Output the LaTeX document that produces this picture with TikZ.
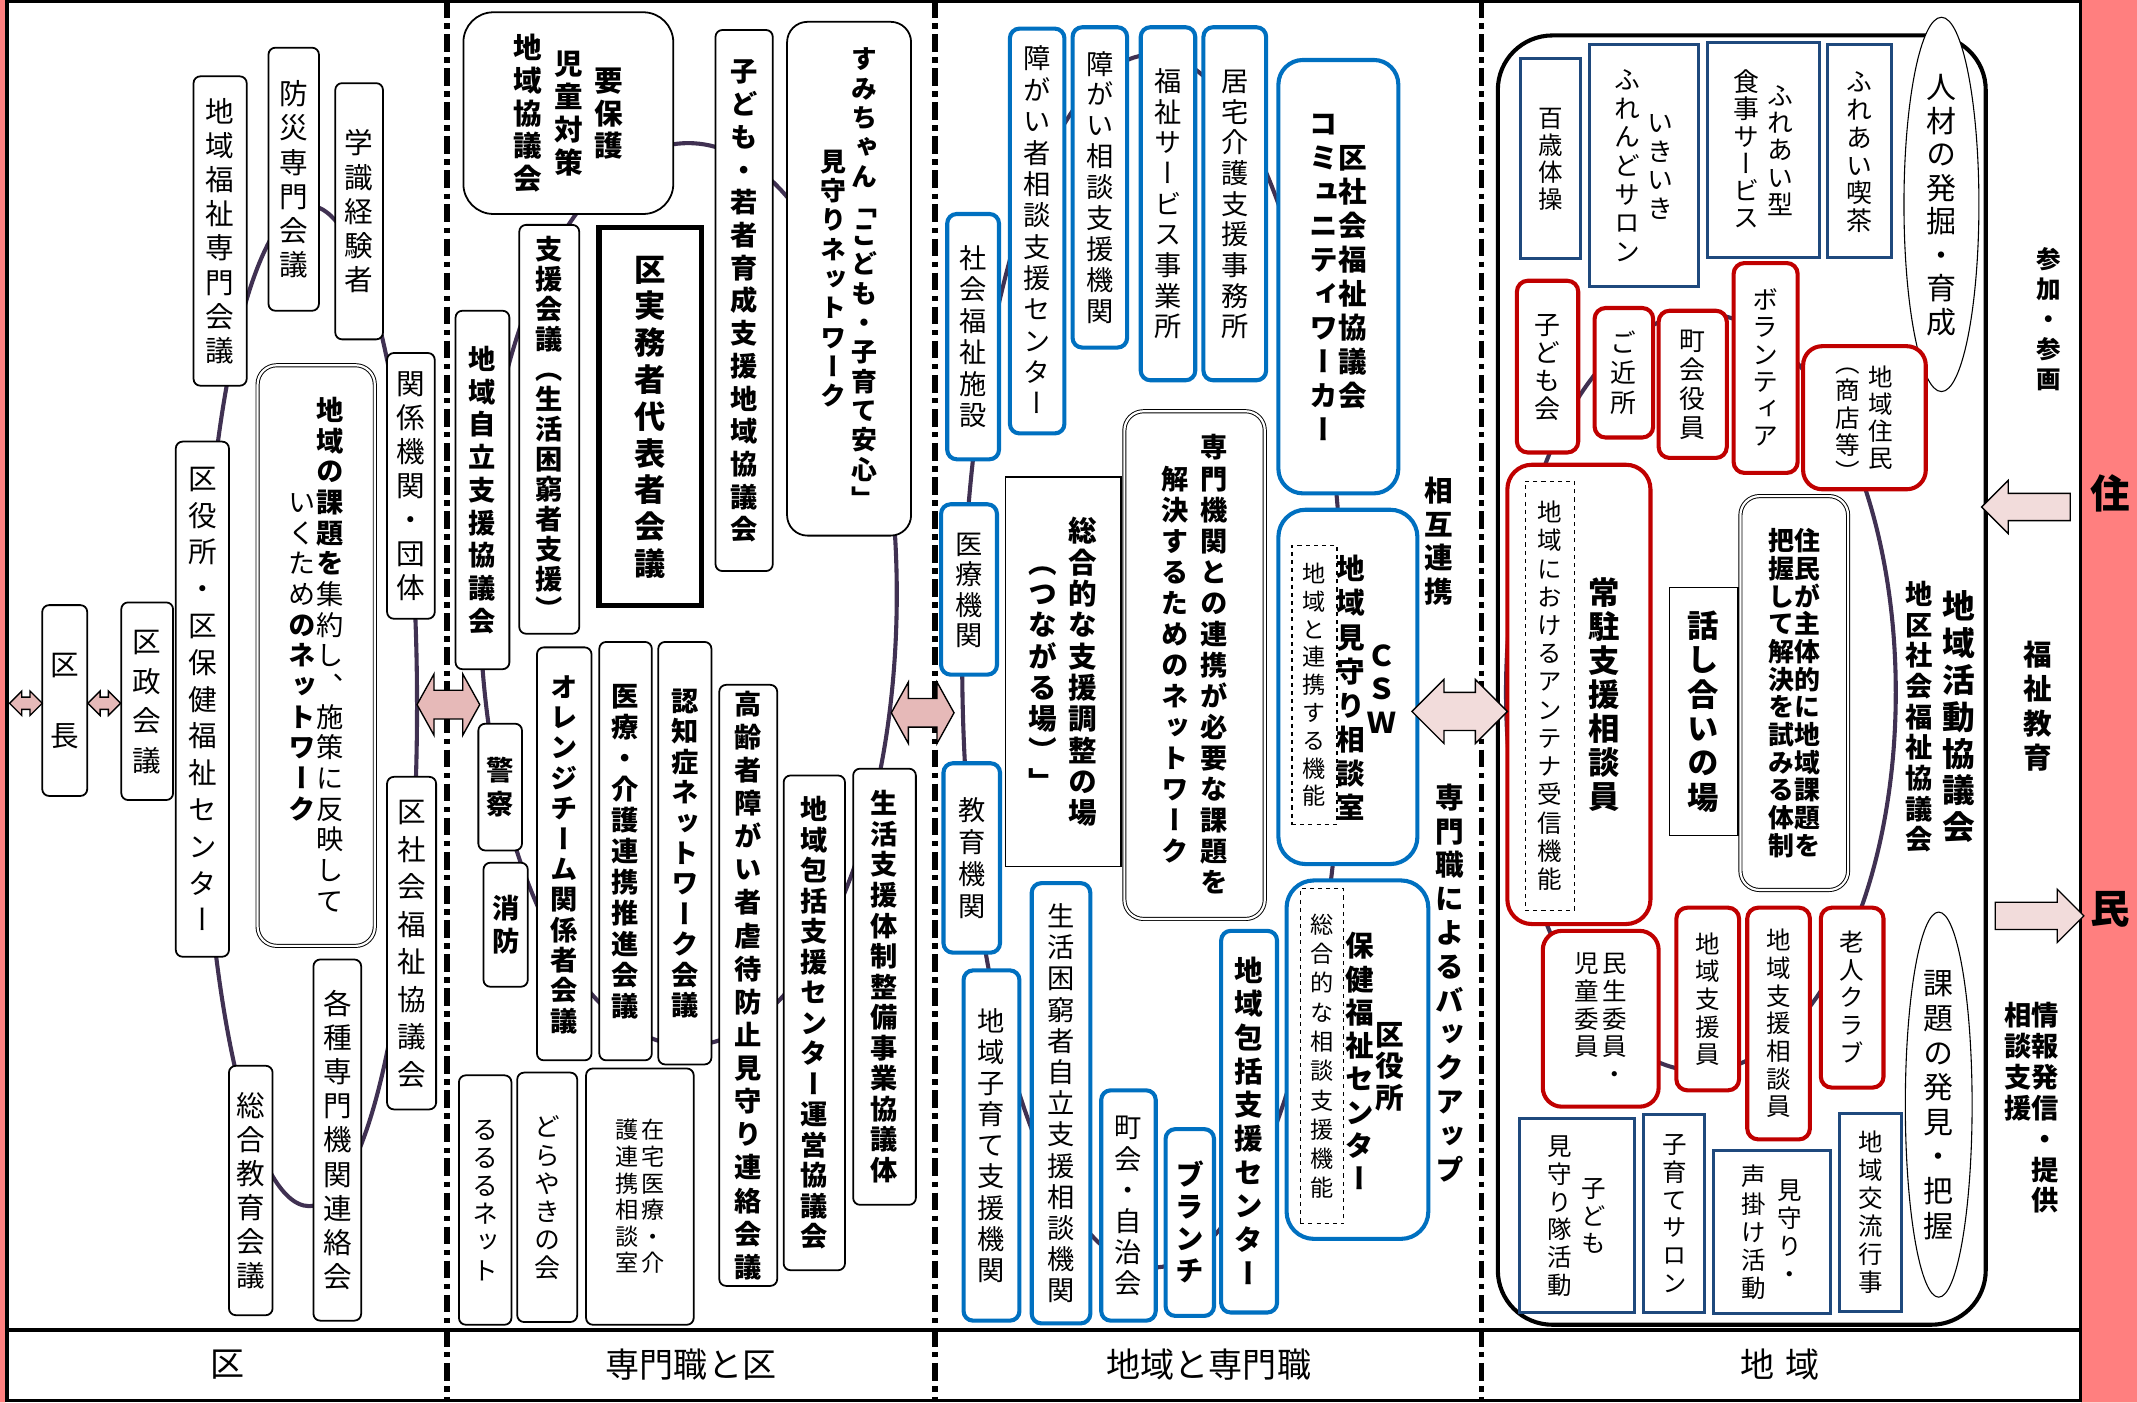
\documentclass[tikz,border=0pt]{standalone}
\usepackage{fontspec}
\setmainfont{Noto Sans CJK JP}
\newfontfamily\vtfont{Noto Sans CJK JP}[RawFeature=+vert]
\usepackage{xcolor}
\definecolor{ringc}{RGB}{64,49,82}
\definecolor{myblue}{RGB}{0,112,192}
\definecolor{mynavy}{RGB}{31,73,125}
\definecolor{myred}{RGB}{192,0,0}
\definecolor{mypink}{RGB}{230,185,184}
\definecolor{mylight}{RGB}{242,220,219}
\definecolor{mybar}{RGB}{255,127,127}
\usetikzlibrary{shapes.geometric}
\usetikzlibrary{shapes.arrows}

\newcommand\vtB{B}
\newcommand\vtM{M}
\newcommand\vtS{S}
\newcommand\vtchar[1]{\hbox to 1em{\hss\vrule height .88em depth .12em width 0pt #1\hss}}
\def\vtloop#1{\ifx#1\relax\else
  \ifx#1\vtB\bfseries\else
  \ifx#1\vtM\mdseries\else
  \ifx#1\vtS\vtchar{}\else
  \vtchar{#1}\fi\fi\fi
  \expandafter\vtloop\fi}
\newcommand\vt[1]{$\vcenter{\vtfont\lineskiplimit=-\maxdimen\vtloop#1\relax}$}

\tikzset{
  blackbox/.style={draw, fill=white, rounded corners=5pt, line width=1.3pt, inner sep=0pt},
  bluebox/.style={draw=myblue, fill=white, rounded corners=7pt, line width=3pt, inner sep=0pt},
  redbox/.style={draw=myred, fill=white, rounded corners=8pt, line width=3pt, inner sep=0pt},
  navybox/.style={draw=mynavy, fill=white, line width=2.2pt, inner sep=0pt},
  dblbox/.style={draw, fill=white, double, double distance=1.6pt, line width=0.7pt, rounded corners=14pt, inner sep=0pt},
  dashbox/.style={draw, dashed, line width=0.8pt, inner sep=0pt},
  oval/.style={draw, ellipse, fill=white, line width=0.8pt, inner sep=0pt},
  ring/.style={draw=ringc, line width=3pt},
  divider/.style={line width=4pt, dash pattern=on 13pt off 4pt on 4pt off 4pt},
  wh/.style 2 args={minimum width=#1, minimum height=#2},
  fs/.style 2 args={font=\fontsize{#1}{#2}\selectfont},
  fsb/.style 2 args={font=\fontsize{#1}{#2}\selectfont\bfseries},
  darr/.style={double arrow, draw, fill=mypink, line width=1pt, inner xsep=0pt},
  sarr/.style={single arrow, draw, fill=mylight, line width=1pt, inner xsep=0pt,
    inner ysep=9.5pt, single arrow head extend=9.5pt, minimum height=65pt},
}

\begin{document}
\begin{tikzpicture}[x=1pt,y=-1pt]
  \useasboundingbox (0,0) rectangle (1568,1029);
  \fill[white] (0,0) rectangle (1568,1029);
  \fill[mybar] (0,0) rectangle (4,1029) (1527,0) rectangle (1568,1029);
  \draw[line width=2.5pt] (5,1.2) rectangle (1526.5,1027.8) (5,976) -- (1526.5,976);
  \foreach \x in {328,686,1087}
    \draw[divider] (\x,0) -- (\x,1029);
  \draw[line width=3pt, rounded corners=40pt] (1099,26) rectangle (1457,972);

  \draw[ring] (227,518) ellipse [x radius=79, y radius=367];
  \draw[ring] (505,436) ellipse [x radius=153, y radius=331];
  \draw[ring] (846,485) ellipse [x radius=140, y radius=445];
  \draw[ring] (1248,508) ellipse [x radius=143, y radius=278];

  \node[blackbox,wh={33}{140},fs={21}{26}] (kucho) at (47.5,514) {\vt{区\vtS 長}};
  \node[blackbox,wh={38}{145},fs={21}{29}] (kusei) at (108,514.5) {\vt{区政会議}};
  \node[blackbox,wh={39}{378},fs={21}{27}] (kuyaku) at (148.5,513) {\vt{区役所・区保健福祉センター}};
  \node[blackbox,wh={39}{227},fs={21}{25}] (fukushisenmon) at (161.5,169.5) {\vt{地域福祉専門会議}};
  \node[blackbox,wh={37}{193},fs={21}{25}] (bousai) at (215.5,131.5) {\vt{防災専門会議}};
  \node[blackbox,wh={35}{188},fs={21}{25}] (gakushiki) at (263.5,155) {\vt{学識経験者}};
  \node[blackbox,wh={35}{195},fs={21}{25}] (kankei) at (301.5,356.5) {\vt{関係機関・団体}};
  \node[dblbox,wh={86}{426},fs={20}{22.5}] (kadainet) at (232,481)
    {\vt{いくため\vtB のネットワーク}\hspace{1pt}\vt{\vtB 地域の課題を\vtM 集約し、施策に反映して}};
  \node[blackbox,wh={36}{244},fs={21}{27.5}] (kushakyo) at (302,692) {\vt{区社会福祉協議会}};
  \node[blackbox,wh={35}{265},fs={21}{25}] (kakushu) at (247.5,836.5) {\vt{各種専門機関連絡会}};
  \node[blackbox,wh={32}{183},fs={21}{25}] (sougou) at (184,873.5) {\vt{総合教育会議}};

  \node[blackbox,rounded corners=22pt,wh={154}{148},fsb={21}{24}] (youhogo) at (417,83)
    {\vt{地域協議会}\hspace{8.5pt}\vt{児童対策}\hspace{8.5pt}\vt{要保護}};
  \node[blackbox,wh={42}{397},fsb={20}{24}] (wakamono) at (546,220.5) {\vt{子ども・若者育成支援地域協議会}};
  \node[blackbox,rounded corners=15pt,wh={91}{377},fsb={19}{21.5}] (sumichan) at (623,204.5)
    {\vt{見守りネットワーク}\hspace{4pt}\vt{すみちゃん「こども・子育て安心」}};
  \node[draw,fill=white,line width=3.7pt,inner sep=0pt,wh={75}{277},fsb={23}{27}] (jitsumu) at (477,305.5) {\vt{区実務者代表者会議}};
  \node[blackbox,wh={44}{300},fsb={20}{22}] (shienkaigi) at (403,315) {\vt{支援会議（生活困窮者支援）}};
  \node[blackbox,wh={39.5}{263},fsb={20}{24}] (jiritsu) at (354,359.5) {\vt{地域自立支援協議会}};
  \node[blackbox,wh={32}{93},fsb={20}{25}] (keisatsu) at (367,577.5) {\vt{警察}};
  \node[blackbox,wh={32.5}{91},fsb={20}{24}] (shoubou) at (371,678.5) {\vt{消防}};
  \node[blackbox,wh={40}{303},fsb={20}{22.3}] (orange) at (414,626.5) {\vt{オレンジチーム関係者会議}};
  \node[blackbox,wh={38.5}{307},fsb={20}{22.7}] (iryoukaigo) at (459,624.5) {\vt{医療・介護連携推進会議}};
  \node[blackbox,wh={39}{310},fsb={20}{22.3}] (ninchi) at (502.5,626) {\vt{認知症ネットワーク会議}};
  \node[blackbox,wh={42.5}{441},fsb={20}{24.3}] (gyakutai) at (549,723) {\vt{高齢者障がい者虐待防止見守り連絡会議}};
  \node[blackbox,wh={45}{363},fsb={20}{22.4}] (unei) at (597.5,750.5) {\vt{地域包括支援センター運営協議会}};
  \node[blackbox,wh={46}{320},fsb={20}{22.4}] (taisei) at (649,724) {\vt{生活支援体制整備事業協議体}};
  \node[blackbox,wh={38.5}{183},fs={19}{20.6}] (rururu) at (356,880.5) {\vt{るるるネット}};
  \node[blackbox,wh={44}{183},fs={19}{20.6}] (dorayaki) at (401.5,878.5) {\vt{どらやきの会}};
  \node[blackbox,wh={79}{188},fs={17}{19.5}] (zaitaku) at (469.5,878)
    {\vt{護連携相談室}\hspace{2.5pt}\vt{在宅医療・介}};

  \node[bluebox,wh={38}{180},fs={20}{23}] (shisetsu) at (714,247) {\vt{社会福祉施設}};
  \node[bluebox,wh={40}{297},fs={20}{23}] (shougaisha) at (761,169.5) {\vt{障がい者相談支援センター}};
  \node[bluebox,wh={40}{235},fs={20}{22.7}] (shougaisoudan) at (807,137.5) {\vt{障がい相談支援機関}};
  \node[bluebox,wh={40}{259},fs={20}{22.5}] (fukushiservice) at (857,149.5) {\vt{福祉サービス事業所}};
  \node[bluebox,wh={46}{259},fs={20}{22.5}] (kyotaku) at (906,149.5) {\vt{居宅介護支援事務所}};
  \node[bluebox,rounded corners=18pt,wh={88}{318},fsb={21}{25}] (cw) at (982,203)
    {\vt{コミュニティワーカー}\hspace{0.5pt}\vt{区社会福祉協議会}};
  \node[bluebox,wh={41}{125},fs={20}{22.4}] (iryoukikan) at (711,432.5) {\vt{医療機関}};
  \node[bluebox,wh={41.5}{139},fs={20}{23.6}] (kyouikukikan) at (713,629.5) {\vt{教育機関}};
  \node[draw,fill=white,line width=1.3pt,inner sep=0pt,wh={84.5}{285.5},fsb={21}{23}] (tsunagaru) at (780,493)
    {\vt{（つながる場）」}\hspace{8pt}\vt{総合的な支援調整の場}};
  \node[dblbox,wh={103}{372.5},fsb={20}{22.8}] (senmonnet) at (876.5,488)
    {\vt{解決するためのネットワーク}\hspace{8pt}\vt{専門機関との連携が必要な課題を}};
  \node[bluebox,wh={41}{257},fs={20}{22.8}] (kosodate) at (727.5,840.5) {\vt{地域子育て支援機関}};
  \node[bluebox,wh={43}{323},fs={20}{22.9}] (konkyu) at (778.5,809.5) {\vt{生活困窮者自立支援相談機関}};
  \node[bluebox,wh={40}{169},fs={20}{22.9}] (choukai) at (828,884.5) {\vt{町会・自治会}};
  \node[bluebox,wh={35.5}{137},fsb={21}{23.5}] (branch) at (873,897) {\vt{ブランチ}};
  \node[bluebox,wh={41}{280},fsb={21}{24.7}] (houkatsu) at (916.5,823) {\vt{地域包括支援センター}};
  \node[bluebox,rounded corners=20pt,wh={102}{260}] (cswbox) at (989,504) {};
  \node[dashbox,wh={33}{205},fs={17}{20.4}] (renkei) at (964.5,502.5) {\vt{地域と連携する機能}};
  \node[fsb={21}{25}] (mimamori) at (991,505) {\vt{地域見守り相談室}};
  \node[fsb={21}{24.5}] (csw) at (1014,505.5) {\vt{ＣＳＷ}};
  \node[bluebox,rounded corners=20pt,wh={104}{263}] (hokenbox) at (996,777.5) {};
  \node[dashbox,wh={32}{246},fs={17}{21.5}] (soudankinou) at (970,775) {\vt{総合的な相談支援機能}};
  \node[fsb={21}{24.4}] (hoken) at (998,779.5) {\vt{保健福祉センター}};
  \node[fsb={21}{23}] (kuyakusho) at (1020,782) {\vt{区役所}};
  \node[fsb={21}{24.7}] (sougorenkei) at (1056,397) {\vt{相互連携}};
  \node[fsb={21}{24.8}] (backup) at (1064,721.5) {\vt{専門職によるバックアップ}};

  \node[navybox,wh={44}{147},fs={18}{20}] (hyakusai) at (1137.5,116.5) {\vt{百歳体操}};
  \node[navybox,wh={80}{177},fs={19}{21}] (ikiiki) at (1206,121.5) {\vt{ふれんどサロン}\hspace{5pt}\vt{いきいき}};
  \node[navybox,wh={82}{158},fs={19}{20}] (shokuji) at (1294,110) {\vt{食事サービス}\hspace{6pt}\vt{ふれあい型}};
  \node[navybox,wh={47}{156},fs={19}{20.4}] (kissa) at (1364.5,111) {\vt{ふれあい喫茶}};
  \node[oval,wh={55}{238},fs={22}{24.6}] (jinzai) at (1424.5,150) {\vt{人材の発掘・育成}};
  \node[redbox,wh={45}{126},fs={19}{20.7}] (kodomokai) at (1135.5,269) {\vt{子ども会}};
  \node[redbox,wh={43}{95},fs={19}{22}] (gokinjo) at (1191.5,273.5) {\vt{ご近所}};
  \node[redbox,wh={50}{108},fs={19}{21.3}] (yakuin) at (1242,282) {\vt{町会役員}};
  \node[redbox,wh={47}{154},fs={19}{20}] (volunteer) at (1295.5,270) {\vt{ボランティア}};
  \node[redbox,rounded corners=14pt,wh={90}{105},fs={18}{20}] (juumin) at (1368,306.5)
    {\vt{（商店等）}\hspace{6pt}\vt{地域住民}};
  \node[redbox,rounded corners=18pt,wh={105}{337}] (joushubox) at (1158.5,509.5) {};
  \node[dashbox,wh={36}{315},fs={18}{20.7}] (antenna) at (1137,510.5) {\vt{地域におけるアンテナ受信機能}};
  \node[fsb={23}{25}] (joushu) at (1177,509.5) {\vt{常駐支援相談員}};
  \node[draw,fill=white,line width=1.2pt,inner sep=0pt,wh={50}{182},fsb={23}{25.2}] (hanashiai) at (1250,522) {\vt{話し合いの場}};
  \node[dblbox,wh={79}{289},fsb={19}{20.3}] (shutai) at (1316.5,508.5)
    {\vt{把握して解決を試みる体制}\vt{住民が主体的に地域課題を}};
  \node[fsb={24}{27}] (chikatsu) at (1437,526) {\vt{地域活動協議会}};
  \node[fsb={20}{22.5}] (chikusha) at (1408,526) {\vt{地区社会福祉協議会}};
  \node[redbox,rounded corners=14pt,wh={85}{129},fs={18}{20.25}] (minsei) at (1174.5,747.5)
    {\vt{児童委員\vtS}\hspace{3pt}\vt{民生委員・}};
  \node[redbox,wh={46}{134},fs={18}{20.3}] (shienin) at (1253,733) {\vt{地域支援員}};
  \node[redbox,wh={46}{170},fs={18}{20.3}] (soudanin) at (1305,751) {\vt{地域支援相談員}};
  \node[redbox,wh={46}{132},fs={18}{20.3}] (roujin) at (1359,732) {\vt{老人クラブ}};
  \node[navybox,wh={84}{142},fs={18}{20.4}] (mimamoritai) at (1157,892) {\vt{見守り隊活動}\hspace{7pt}\vt{子ども}};
  \node[navybox,wh={45}{145},fs={18}{20.4}] (salon) at (1228.5,890.5) {\vt{子育てサロン}};
  \node[navybox,wh={86}{120},fs={18}{20.5}] (koekake) at (1300,904) {\vt{声掛け活動}\hspace{8pt}\vt{見守り・}};
  \node[navybox,wh={45}{145},fs={18}{20.6}] (kouryu) at (1372.5,889.5) {\vt{地域交流行事}};
  \node[oval,wh={49}{257},fs={22}{25.4}] (kadai) at (1422.5,810.5) {\vt{課題の発見・把握}};
  \node[fsb={18}{22}] (sanka) at (1503,234) {\vt{参加・参画}};
  \node[fsb={21}{25.3}] (fukushikyouiku) at (1495,518) {\vt{福祉教育}};
  \node[fsb={20}{22.6}] (jouhou) at (1490.5,813) {\vt{相談支援\vtS\vtS\vtS}\vt{情報発信・提供}};

  \node[font=\fontsize{29}{29}\selectfont\bfseries] (ju) at (1548,362) {住};
  \node[font=\fontsize{29}{29}\selectfont\bfseries] (min) at (1548,667) {民};

  \node[darr,minimum height=24pt,inner ysep=4pt,double arrow head extend=4.5pt] (a1) at (19,516) {};
  \node[darr,minimum height=24pt,inner ysep=4pt,double arrow head extend=4.5pt] (a2) at (76.5,516) {};
  \node[darr,minimum height=46pt,inner ysep=10pt,double arrow head extend=12pt,double arrow tip angle=122] (a3) at (329,517) {};
  \node[darr,minimum height=46pt,inner ysep=10pt,double arrow head extend=12pt,double arrow tip angle=122] (a4) at (677,523) {};
  \node[darr,fill=mylight,minimum height=70pt,inner ysep=13.5pt,double arrow head extend=9.5pt] (a5) at (1071,522) {};
  \node[sarr,shape border rotate=180] (a6) at (1491.5,372) {};
  \node[sarr] (a7) at (1491.5,672) {};

  \node[fs={25}{25}] (lku) at (167,1001) {区};
  \node[fs={25}{25}] (lsenmon) at (507,1001) {専門職と区};
  \node[fs={25}{25}] (lchiiki) at (887,1001) {地域と専門職};
  \node[fs={25}{25}] (lchi) at (1306,1001) {地\hspace{8pt}域};
\end{tikzpicture}
\end{document}
